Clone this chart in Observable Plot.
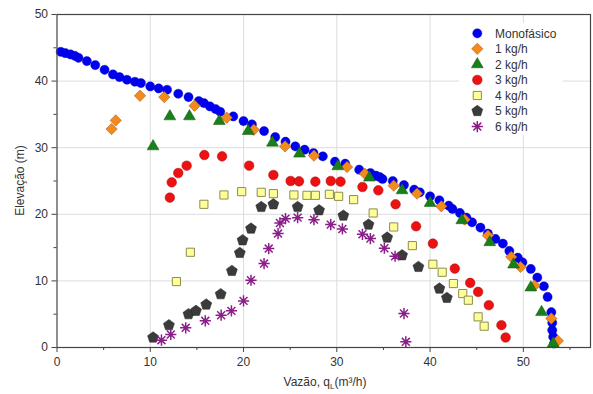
<!DOCTYPE html>
<html><head><meta charset="utf-8">
<script src="https://cdn.jsdelivr.net/npm/d3@7"></script>
<script src="https://cdn.jsdelivr.net/npm/@observablehq/plot@0.6"></script>
<style>body{margin:0;background:#fff;font-family:"Liberation Sans",Arial,sans-serif}</style>
</head><body><div id="chart"></div>
<script>
// ---- data (x = Vazão m³/h, y = Elevação m) ----
const seriesNames = ["Monofásico","1 kg/h","2 kg/h","3 kg/h","4 kg/h","5 kg/h","6 kg/h"];
const xTicks = [0,10,20,30,40,50];
const xMinor = [5,15,25,35,45,55];
const yTicks = [0,10,20,30,40,50];
const yMinor = [5,15,25,35,45];

const mono = [[0.4,44.4],[0.9,44.2],[1.45,44.0],[1.9,43.8],[2.3,43.5],[3.2,43.0],[4.1,42.4],[5.1,41.7],[6.0,41.0],[6.7,40.6],[7.5,40.2],[8.35,39.9],[9.0,39.7],[10.0,39.2],[10.9,38.9],[11.8,38.7],[13.0,38.1],[14.1,37.6],[15.2,37.0],[15.75,36.7],[16.4,36.2],[17.0,35.8],[17.5,35.4],[18.9,34.7],[20.0,34.0],[20.9,33.5],[22.2,32.5],[23.4,31.6],[24.5,30.9],[25.55,30.2],[26.55,29.7],[27.5,29.2],[28.5,28.7],[29.8,27.9],[30.9,27.6],[32.4,26.7],[33.6,26.2],[34.2,25.8],[34.6,25.6],[34.9,25.3],[36.0,25.0],[37.2,24.4],[38.3,23.7],[38.9,23.3],[40.0,22.7],[41.0,22.1],[42.0,21.3],[42.4,20.8],[43.2,20.2],[43.9,19.5],[44.5,18.8],[45.4,18.0],[46.2,17.1],[47.0,16.3],[47.8,15.6],[48.5,14.5],[49.4,13.5],[49.9,12.8],[50.8,11.8],[51.5,10.5],[52.2,9.2],[52.6,7.6],[53.0,5.3],[53.1,3.7],[53.1,2.6],[53.2,1.6],[53.3,0.6]];
const kg1 = [[5.85,32.8],[6.3,34.1],[8.9,37.8],[11.5,37.6],[14.75,36.3],[18.2,34.5],[21.1,32.7],[24.45,30.2],[27.55,28.8],[31.1,27.1],[33.0,26.1],[36.1,24.3],[38.6,23.1],[41.2,21.2],[43.7,19.2],[46.2,16.8],[48.7,13.6],[49.7,12.1],[51.2,9.3],[53.0,4.35],[53.7,1.0]];
const kg2 = [[10.3,30.2],[12.1,34.7],[14.2,34.7],[17.4,34.0],[20.5,32.5],[23.1,30.75],[26.0,29.1],[30.1,27.2],[33.5,25.5],[37.0,23.6],[40.0,21.7],[43.4,19.1],[46.4,15.8],[48.95,12.45],[50.8,9.0],[51.95,5.3],[53.2,0.6]];
const kg3 = [[12.1,22.5],[12.3,24.8],[13.0,26.2],[13.9,27.3],[15.8,28.9],[17.7,28.7],[20.6,27.3],[23.2,25.9],[25.05,25.0],[25.95,24.95],[27.7,24.9],[29.35,25.0],[30.4,24.9],[32.75,24.1],[34.45,23.6],[36.3,21.5],[38.5,18.2],[40.3,15.6],[42.65,11.85],[44.3,9.7],[45.15,8.35],[46.3,6.35],[47.65,3.35],[48.1,1.5]];
const kg4 = [[12.8,9.9],[14.3,14.3],[15.75,21.5],[17.9,22.9],[19.8,23.4],[21.9,23.3],[23.2,23.1],[25.4,22.9],[26.8,22.85],[27.7,22.85],[29.2,23.0],[30.2,22.7],[31.8,22.2],[33.9,20.2],[36.1,18.1],[38.1,15.3],[40.3,12.5],[41.3,11.3],[42.5,9.6],[43.5,8.1],[44.1,7.1],[45.15,4.6],[45.8,3.2]];
const kg5 = [[10.3,1.5],[12.0,3.35],[14.1,5.0],[14.9,5.5],[16.0,6.45],[17.55,8.0],[18.75,11.5],[19.6,14.2],[19.9,16.1],[20.8,17.85],[21.9,21.1],[23.2,21.5],[25.8,21.1],[28.1,20.6],[30.7,19.8],[33.4,18.45],[35.4,16.5],[37.0,13.85],[38.75,12.1],[41.0,8.85],[41.8,7.45]];
const kg6 = [[11.2,1.1],[12.2,1.95],[13.8,2.95],[15.9,4.0],[17.6,4.85],[18.7,5.5],[20.0,7.0],[20.8,10.1],[22.2,12.6],[22.7,14.85],[23.7,17.1],[23.9,18.7],[24.5,19.35],[25.8,19.5],[27.55,19.2],[29.35,18.45],[30.6,17.8],[32.75,17.0],[33.6,16.35],[35.1,14.9],[36.25,13.7],[37.2,5.1],[37.4,0.85]];

// ---- custom symbols ----
const pentagon = {draw(ctx, size){
  const r = Math.sqrt(size / 2.378);
  for (let i = 0; i < 5; i++) {
    const a = -Math.PI/2 + i*2*Math.PI/5;
    const px = r*Math.cos(a), py = r*Math.sin(a);
    i ? ctx.lineTo(px, py) : ctx.moveTo(px, py);
  }
  ctx.closePath();
}};
const star8 = {draw(ctx, size){
  const r = Math.sqrt(size / Math.PI);
  for (let i = 0; i < 4; i++) {
    const a = i*Math.PI/4;
    ctx.moveTo(r*Math.cos(a), r*Math.sin(a));
    ctx.lineTo(-r*Math.cos(a), -r*Math.sin(a));
  }
}};

const styles = [
  {data: mono, symbol: "circle",   r: 4.6, fill: "#0000f0", stroke: "#0000b0", strokeWidth: 0.4},
  {data: kg1,  symbol: "diamond2", r: 5.1, fill: "#f28a1e", stroke: "#b4611a", strokeWidth: 0.6},
  {data: kg2,  symbol: "triangle", r: 4.4, fill: "#1a7f1a", stroke: "#0f5a0f", strokeWidth: 0.5},
  {data: kg3,  symbol: "circle",   r: 4.8, fill: "#ee1111", stroke: "#aa0a0a", strokeWidth: 0.5},
  {data: kg4,  symbol: "square",   r: 4.6, fill: "#ffff99", stroke: "#8c8c50", strokeWidth: 1},
  {data: kg5,  symbol: pentagon,   r: 5.0, fill: "#3b3b3b", stroke: "#222222", strokeWidth: 0.5},
  {data: kg6,  symbol: star8,      r: 5.6, fill: "none",    stroke: "#8a1f8a", strokeWidth: 1.5}
];

const plot = Plot.plot({
  width: 593, height: 394,
  marginLeft: 56.5, marginRight: 3, marginTop: 14, marginBottom: 47,
  style: {fontFamily: "Liberation Sans, Arial, sans-serif", fontSize: "12px", color: "#333", background: "#fff"},
  x: {domain: [0, 57.2]},
  y: {domain: [0, 50]},
  marks: [
    Plot.gridX(xTicks.filter(v => v > 0), {stroke: "#dcdcdc", strokeOpacity: 1}),
    Plot.gridY(yTicks.filter(v => v > 0 && v < 50), {stroke: "#dcdcdc", strokeOpacity: 1}),
    Plot.axisX(xMinor, {tickSize: 3, tickFormat: () => "", label: null, stroke: "#444"}),
    Plot.axisX(xTicks, {tickSize: 5, tickPadding: 5, label: null, stroke: "#444", fill: "#333"}),
    Plot.axisY(yMinor, {tickSize: 3, tickFormat: () => "", label: null, stroke: "#444"}),
    Plot.axisY(yTicks, {tickSize: 5, tickPadding: 4, label: null, stroke: "#444", fill: "#333"}),
    ...styles.map(s => Plot.dot(s.data, {x: d => d[0], y: d => d[1], symbol: s.symbol, r: s.r, fill: s.fill, stroke: s.stroke, strokeWidth: s.strokeWidth})),
    Plot.frame({stroke: "#444", strokeWidth: 1.2})
  ]
});

const svg = d3.select(plot);
// legend
const lg = svg.append("g");
lg.append("rect").attr("x", 459).attr("y", 23).attr("width", 104).attr("height", 112).attr("fill", "#fff");
const symMap = {circle: d3.symbolCircle, diamond2: d3.symbolDiamond2, triangle: d3.symbolTriangle, square: d3.symbolSquare};
seriesNames.forEach((name, i) => {
  const s = styles[i];
  const y = 33.3 + i * 15.55;
  lg.append("path")
    .attr("transform", `translate(477.3,${y})`)
    .attr("d", d3.symbol(typeof s.symbol === "string" ? symMap[s.symbol] : s.symbol, s.r * s.r * Math.PI)())
    .attr("fill", s.fill).attr("stroke", s.stroke).attr("stroke-width", s.strokeWidth);
  lg.append("text").attr("x", 495).attr("y", y).attr("dy", "0.35em")
    .attr("text-anchor", "start")
    .attr("font-size", 12).attr("fill", "#333").text(name);
});
// axis labels
const xl = svg.append("text").attr("x", 325).attr("y", 386).attr("text-anchor", "middle")
  .attr("font-size", 12).attr("fill", "#333");
xl.append("tspan").text("Vazão, q");
xl.append("tspan").attr("font-size", 8).attr("dy", 3).text("L");
xl.append("tspan").attr("dy", -3).text("(m³/h)");
svg.append("text").attr("transform", "translate(20,180.5) rotate(-90)")
  .attr("text-anchor", "middle").attr("dy", "0.35em").attr("font-size", 12).attr("fill", "#333")
  .text("Elevação (m)");

document.getElementById("chart").appendChild(plot);
</script>
</body></html>
